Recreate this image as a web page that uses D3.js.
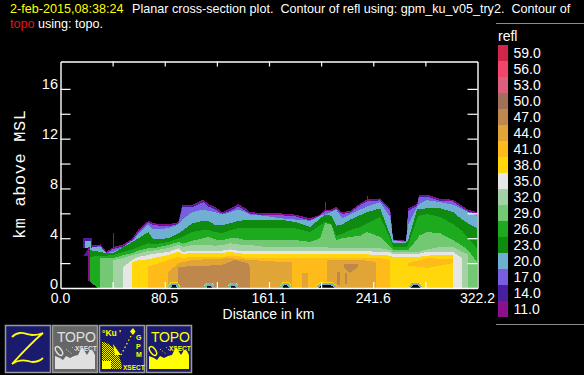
<!DOCTYPE html>
<html>
<head>
<meta charset="utf-8">
<script src="https://cdn.jsdelivr.net/npm/d3@7"></script>
<style>
  html, body { margin: 0; padding: 0; background: black; }
  svg { display: block; }
  text { font-family: "Liberation Sans", sans-serif; white-space: pre; }
</style>
</head>
<body>
<div id="chart"></div>
<script>
// legend, top to bottom
var legend_levels = ['59.0','56.0','53.0','50.0','47.0','44.0','41.0','38.0','35.0','32.0','29.0','26.0','23.0','20.0','17.0','14.0','11.0']
var legend_colours = ['#cf2649','#f4446c','#dc607d','#a0705a','#be874b','#e1a537','#ffbb19','#ffd70a','#e6e6e6','#a5d2a5','#73c873','#1eaa1e','#0f8c0f','#6eafd2','#785fe1','#4b1ea0','#8c0f8c']

var x_ticks = [40.275,80.55,120.825,161.1,201.375,241.65,281.925]
var x_labels = ['0.0','80.5','161.1','241.6','322.2']
var y_ticks = [2,4,6,8,10,12,14,16]
var y_labels = [0,4,8,12,16]

// distance along the section, km
var distance = [22.4,30.9,35.5,40.9,48.6,55.6,60.2,67.9,71.8,83.4,
  91.1,94.2,101.9,110.4,114.2,119.6,125.0,131.2,137.4,142.8,
  146.6,158.2,169.8,181.4,192.9,200.7,204.5,209.2,213.0,217.6,
  223.8,231.5,236.9,247.0,254.7,257.0,267.0,268.6,275.5,277.0,
  283.2,293.3,303.3,310.3,314.9,321.8]

// top of each refl contour, km
var refl11 = [3.4,3.5,2.9,3.3,3.5,4.0,4.7,5.4,5.2,5.1,
  5.3,6.7,6.7,7.1,6.75,6.5,6.1,6.4,6.75,6.4,
  6.1,6.0,6.0,5.9,5.6,5.9,6.3,6.3,6.5,6.1,
  6.2,6.8,7.1,7.2,6.4,3.9,3.8,6.4,6.75,7.5,
  7.5,7.15,7.1,6.6,6.3,6.1]
var refl14 = [3.3,3.4,2.8,3.2,3.4,3.9,4.6,5.3,5.1,5.0,
  5.2,6.6,6.6,7.0,6.65,6.4,6.0,6.3,6.65,6.3,
  6.0,5.9,5.9,5.8,5.5,5.8,6.2,6.2,6.4,6.0,
  6.1,6.7,7.0,7.1,6.3,3.85,3.75,6.3,6.65,7.4,
  7.4,7.05,7.0,6.5,6.2,6.0]
var refl17 = [3.3,3.35,2.8,3.15,3.35,3.85,4.5,5.25,5.05,4.95,
  5.15,6.5,6.5,6.9,6.55,6.3,5.95,6.2,6.55,6.2,
  5.95,5.85,5.85,5.75,5.45,5.85,6.15,6.15,6.35,5.95,
  6.05,6.65,6.95,7.05,6.2,3.85,3.75,6.2,6.6,7.35,
  7.35,7.0,6.95,6.45,6.15,5.95]
var refl20 = [3.3,3.3,2.8,2.9,3.3,3.8,4.3,5.1,4.7,4.8,
  5.1,5.5,6.1,6.3,6.2,6.1,5.9,6.1,6.3,6.1,
  5.9,5.8,5.6,5.5,5.4,5.8,5.9,6.1,6.3,5.6,
  5.9,6.3,6.55,6.9,5.7,3.8,3.7,5.1,6.55,6.75,
  7.05,6.9,6.7,6.35,6.1,5.8]
var refl23 = [3.05,2.9,2.8,2.8,3.3,3.7,4.0,4.5,3.9,4.0,
  4.4,4.6,5.2,5.4,5.4,5.05,5.05,5.2,5.4,5.45,
  5.45,5.5,5.5,5.3,4.9,5.6,5.9,5.8,5.0,5.1,
  5.5,5.85,6.1,6.4,4.25,3.6,3.6,3.85,6.3,6.35,
  6.4,6.4,6.1,5.5,5.2,4.8]
var refl26 = [2.5,2.6,2.6,2.65,2.9,3.1,3.3,3.6,3.5,3.7,
  4.0,4.1,4.5,4.65,4.65,4.5,4.4,4.65,4.8,4.8,
  4.8,4.8,4.8,4.8,4.5,5.05,5.3,5.15,4.2,4.35,
  4.65,4.9,5.2,5.7,4.0,3.3,3.3,3.4,5.6,5.8,
  5.95,5.7,5.15,4.6,4.0,3.2]
var refl29 = [null,2.4,2.4,2.4,2.65,2.8,3.0,3.2,3.2,3.45,
  3.7,3.55,3.8,4.0,4.1,3.9,3.85,4.0,4.0,3.85,
  3.85,3.85,3.85,3.85,3.7,4.0,5.2,5.15,3.85,4.0,
  4.1,4.2,4.5,4.1,3.3,3.05,3.05,3.05,3.9,4.2,
  4.5,4.4,3.85,3.4,3.05,2.1]
var refl32 = [null,null,null,2.25,2.4,2.65,2.75,3.0,3.0,3.2,
  3.5,3.3,3.45,3.45,3.45,3.4,3.45,3.6,3.5,3.45,
  3.45,3.3,3.3,3.3,3.3,3.3,3.3,3.2,3.2,3.2,
  3.2,3.2,3.2,3.2,3.05,2.9,2.9,2.9,2.9,2.9,
  3.1,3.3,3.3,2.9,2.7,null]
var refl35 = [null,null,null,null,1.7,2.25,2.5,2.65,2.75,2.9,
  3.2,2.9,3.0,3.0,3.0,3.0,3.0,3.1,3.0,3.0,
  3.0,3.0,3.0,3.0,3.0,3.0,3.0,2.95,2.95,2.95,
  2.95,2.95,2.95,2.9,2.85,2.75,2.75,2.75,2.75,2.75,
  2.9,2.9,2.9,2.4,null,null]
var refl38 = [null,null,null,null,null,2.1,2.25,2.3,2.4,2.65,
  2.9,2.75,2.8,2.8,2.8,2.8,2.8,2.9,2.8,2.75,
  2.75,2.75,2.75,2.75,2.75,2.75,2.75,2.75,2.7,2.7,
  2.7,2.7,2.7,2.65,2.6,2.5,2.5,2.5,2.5,2.5,
  2.6,2.65,2.65,null,null,null]
var refl41 = [null,null,null,null,null,null,null,1.7,1.85,2.25,
  2.5,2.4,2.5,2.5,2.5,2.5,2.5,2.6,2.6,2.4,
  2.4,2.4,2.4,2.4,2.4,2.4,2.4,2.4,2.4,2.4,
  2.4,2.4,2.4,2.4,2.25,null,null,null,null,null,
  null,null,null,null,null,null]

var contour_tops = [refl11,refl14,refl17,refl20,refl23,refl26,refl29,refl32,refl35,refl38,refl41]
var contour_levels = ['11.0','14.0','17.0','20.0','23.0','26.0','29.0','32.0','35.0','38.0','41.0']

// the pieces that are not one continuous column from the ground: [level, distance, top, base]
var patch_41 = ['41.0',[268.6,283.2,303.3],[2.0,2.4,2.3],[1.8,1.6,2.0]]
var patch_44a = ['44.0',[83.4,91.1,101.9,131.2,146.6,169.8,179.1],[1.3,2.0,2.25,2.4,2.25,2.1,2.1],[0,0,0,0,0,0,0]]
var patch_44b = ['44.0',[186.7,191.4],[1.2,1.2],[0,0]]
var patch_44c = ['44.0',[206.1,217.6,231.5,243.9],[2.25,2.25,2.25,2.1],[0,0,0,0]]
var patch_47a = ['47.0',[91.1,101.9,125.0,134.3,145.0,146.6],[1.7,1.75,1.85,2.25,2.0,1.7],[0,0,0,0,0,0]]
var patch_47b = ['47.0',[219.2,223.8,230.0],[1.95,1.95,1.95],[1.65,1.2,1.7]]
var patch_47c = ['47.0',[213.8,216.1],[1.25,1.25],[0.25,0.25]]
var patch_47d = ['47.0',[220.0,221.5],[1.2,1.2],[0.3,0.3]]
// small echo left of the main cloud, and the thin spikes on top of it
var patch_left_14 = ['14.0',[17.0,24.7],[4.05,4.05],[3.25,3.25]]
var patch_left_20 = ['20.0',[19.3,23.2],[3.75,3.75],[3.25,3.25]]
var patch_tail_14 = ['14.0',[18.0,22.4],[2.65,3.25],[2.6,2.6]]
var patch_rim_11 = ['11.0',[21.6,22.6],[3.3,3.3],[0.55,0.55]]
var patch_spike_a = ['11.0',[40.2,41.4],[4.45,4.45],[3.2,3.2]]
var patch_spike_b = ['11.0',[204.1,204.9],[6.95,6.95],[6.2,6.2]]
var patch_spike_c = ['11.0',[236.6,237.4],[7.4,7.4],[7.0,7.0]]
var patch_gap = ['black',[22.4,28.6],[0.55,0],[0,0]]
var patches = [patch_41,patch_44a,patch_44b,patch_44c,patch_47a,patch_47b,patch_47c,patch_47d,
  patch_left_14,patch_left_20,patch_tail_14,patch_rim_11,patch_spike_a,patch_spike_b,patch_spike_c,patch_gap]

// terrain bumps, km
var topo_bumps = [
  [[84.9,86.5,89.0,90.3],[0,0.22,0.22,0]],
  [[112.7,114.0,116.0,117.3],[0,0.18,0.18,0]],
  [[131.2,132.5,134.5,135.8],[0,0.18,0.18,0]],
  [[171.3,173.0,175.0,176.7],[0,0.22,0.22,0]],
  [[199.1,202.0,209.0,212.2],[0,0.22,0.22,0]],
  [[270.9,272.5,276.0,277.8],[0,0.22,0.22,0]]
]

var width = 584, height = 375
var canvas_padding = { top: 61.5, right: 106.5, bottom: 87, left: 60.5 }

var svg = d3.select('#chart').append('svg')
  .attr('width', width)
  .attr('height', height)
  .style('background', 'black')

var xScale = d3.scaleLinear()
  .domain([0, 322.2])
  .range([canvas_padding.left, width - canvas_padding.right])

var yScale = d3.scaleLinear()
  .domain([0, 18.2])
  .range([height - canvas_padding.bottom, canvas_padding.top])

var colour = d3.scaleOrdinal().domain(legend_levels).range(legend_colours)

svg.append('clipPath').attr('id', 'plot-clip').append('rect')
  .attr('x', xScale(0)).attr('y', yScale(18.2))
  .attr('width', xScale(322.2) - xScale(0))
  .attr('height', yScale(0) - yScale(18.2))

var data_layer = svg.append('g')
  .attr('clip-path', 'url(#plot-clip)')
  .attr('shape-rendering', 'crispEdges')

// lowest level first, each next contour paints over it
var contourArea = d3.area()
  .defined(d => d.top !== null)
  .x(d => xScale(d.km))
  .y0(yScale(0))
  .y1(d => yScale(d.top))

contour_tops.forEach(function(tops, i) {
  var rows = distance.map((km, j) => ({ km: km, top: tops[j] }))
  data_layer.append('path')
    .attr('d', contourArea(rows))
    .attr('fill', colour(contour_levels[i]))
})

var patchArea = d3.area()
  .x(d => xScale(d.km))
  .y0(d => yScale(d.base))
  .y1(d => yScale(d.top))

patches.forEach(function(p) {
  var rows = p[1].map((km, j) => ({ km: km, top: p[2][j], base: p[3][j] }))
  data_layer.append('path')
    .attr('d', patchArea(rows))
    .attr('fill', p[0] === 'black' ? 'black' : colour(p[0]))
})

// terrain, with the squeezed contours around it
var topoLine = d3.line().x(d => xScale(d.km)).y(d => yScale(d.top))
var rim_colours = [['38.0', 6.5], ['29.0', 5], ['20.0', 3]]

topo_bumps.forEach(function(b) {
  var rows = b[0].map((km, j) => ({ km: km, top: b[1][j], base: 0 }))
  rim_colours.forEach(function(r) {
    data_layer.append('path')
      .attr('d', topoLine(rows))
      .attr('fill', 'none')
      .attr('stroke', colour(r[0]))
      .attr('stroke-width', r[1])
  })
  data_layer.append('path')
    .attr('d', patchArea(rows))
    .attr('fill', 'black')
})

// axes, all four sides, ticks point inwards
function clean(g) {
  g.select('.domain').attr('stroke', 'white').attr('stroke-width', 1.4)
  g.selectAll('.tick line').attr('stroke', 'white').attr('stroke-width', 1.2)
  g.selectAll('.tick text').remove()
}

svg.append('g')
  .attr('transform', 'translate(0 ' + yScale(0) + ')')
  .call(d3.axisBottom(xScale).tickValues(x_ticks).tickSizeInner(-6).tickSizeOuter(0))
  .call(clean)
svg.append('g')
  .attr('transform', 'translate(0 ' + yScale(18.2) + ')')
  .call(d3.axisTop(xScale).tickValues(x_ticks).tickSizeInner(-5).tickSizeOuter(0))
  .call(clean)
svg.append('g')
  .attr('transform', 'translate(' + xScale(0) + ' 0)')
  .call(d3.axisLeft(yScale).tickValues(y_ticks).tickSizeInner(-10).tickSizeOuter(0))
  .call(clean)
svg.append('g')
  .attr('transform', 'translate(' + xScale(322.2) + ' 0)')
  .call(d3.axisRight(yScale).tickValues(y_ticks).tickSizeInner(-10).tickSizeOuter(0))
  .call(clean)

// tick labels
svg.selectAll('.xlabel').data(x_labels).enter().append('text')
  .attr('x', d => xScale(+d))
  .attr('y', 303)
  .attr('text-anchor', 'middle')
  .attr('font-size', 14)
  .attr('fill', 'white')
  .text(d => d)

svg.selectAll('.ylabel').data(y_labels).enter().append('text')
  .attr('x', 58)
  .attr('y', d => yScale(d) + 0.5)
  .attr('text-anchor', 'end')
  .attr('font-size', 14.5)
  .attr('fill', 'white')
  .text(d => d)

svg.append('text')
  .attr('x', 268.5).attr('y', 319)
  .attr('text-anchor', 'middle')
  .attr('font-size', 14)
  .attr('fill', 'white')
  .text('Distance in km')

svg.append('text')
  .attr('transform', 'translate(24.5 239) rotate(-90)')
  .style('font-family', '"Liberation Mono", monospace')
  .attr('font-size', 17)
  .attr('letter-spacing', 0.6)
  .attr('fill', 'white')
  .text('km above MSL')

// title lines
var title_font = 12.6
svg.append('text').attr('x', 10).attr('y', 13).attr('font-size', title_font).attr('fill', 'yellow')
  .text('2-feb-2015,08:38:24')
svg.append('text').attr('x', 132).attr('y', 13).attr('font-size', title_font).attr('fill', 'white')
  .text('Planar cross-section plot.  Contour of refl using: gpm_ku_v05_try2.  Contour of')
svg.append('text').attr('x', 10).attr('y', 28).attr('font-size', title_font).attr('fill', '#f01010')
  .text('topo')
svg.append('text').attr('x', 38).attr('y', 28).attr('font-size', title_font).attr('fill', 'white')
  .text('using: topo.')

// colour key
svg.append('line').attr('x1', 496).attr('x2', 584).attr('y1', 23.5).attr('y2', 23.5).attr('stroke', '#8c8c8c')
svg.append('line').attr('x1', 496).attr('x2', 584).attr('y1', 324.5).attr('y2', 324.5).attr('stroke', '#8c8c8c')
svg.append('text').attr('x', 498).attr('y', 41).attr('font-size', 14).attr('fill', 'white').text('refl')

var keyScale = d3.scaleBand().domain(legend_levels).range([45, 317])

svg.selectAll('.key').data(legend_levels).enter().append('rect')
  .attr('x', 498).attr('width', 10)
  .attr('y', d => keyScale(d))
  .attr('height', keyScale.bandwidth())
  .attr('fill', d => colour(d))

svg.selectAll('.keytext').data(legend_levels).enter().append('text')
  .attr('x', 513.5)
  .attr('y', d => keyScale(d) + 13)
  .attr('font-size', 14)
  .attr('fill', 'white')
  .text(d => d)

// the four buttons under the plot
var defs = svg.append('defs')
defs.append('pattern').attr('id', 'dither')
  .attr('width', 2).attr('height', 2).attr('patternUnits', 'userSpaceOnUse')
  .call(function(p) {
    p.append('rect').attr('width', 2).attr('height', 2).attr('fill', '#1a1a6e')
    p.append('rect').attr('width', 1).attr('height', 1).attr('fill', 'yellow')
    p.append('rect').attr('x', 1).attr('y', 1).attr('width', 1).attr('height', 1).attr('fill', 'yellow')
  })

function button(x, fill) {
  var g = svg.append('g').attr('transform', 'translate(' + x + ' 325)')
  g.append('rect').attr('x', 0.5).attr('y', 0.5).attr('width', 45).attr('height', 47)
    .attr('fill', fill).attr('stroke', '#9a9a9a').attr('stroke-width', 1.5)
  return g
}

function topoIcon(g, colour_in) {
  g.append('text').attr('x', 5).attr('y', 17).attr('font-size', 14).attr('letter-spacing', -0.2)
    .attr('fill', colour_in).text('TOPO')
  g.append('text').attr('x', 23).attr('y', 26).attr('font-size', 6.5).attr('font-weight', 'bold')
    .attr('fill', colour_in).text('XSECT')
  g.append('path')
    .attr('d', 'M3 44V31L8 33L11 35L14 31L18 33L22 31L26 30L30 22L35 30L38 25L41 26L43 30V44Z')
    .attr('fill', colour_in)
  g.append('ellipse').attr('cx', 7).attr('cy', 26).attr('rx', 2.6).attr('ry', 5)
    .attr('transform', 'rotate(-35 7 26)')
    .attr('fill', 'none').attr('stroke', colour_in).attr('stroke-width', 1.4)
  g.append('path').attr('d', 'M14 24L20 29M20 22L24 26')
    .attr('stroke', colour_in).attr('stroke-dasharray', '1 2')
}

var z_button = button(5, '#1a1a6e')
z_button.append('path')
  .attr('d', 'M7 12C14 5 20 9 27 10C32 10 36 9 38 8C32 13 17 28 7 39C14 34 21 35 27 37C32 37 36 35 38 33')
  .attr('fill', 'none').attr('stroke', 'yellow').attr('stroke-width', 1.8)

topoIcon(button(52, '#666666'), '#e0e0e0')

var gpm_button = button(99, '#1a1a6e')
gpm_button.append('path').attr('d', 'M3 17C14 18 22 30 23 44H3Z').attr('fill', 'url(#dither)')
gpm_button.append('path').attr('d', 'M14 19L22 30L16 30Z').attr('fill', 'yellow')
gpm_button.append('rect').attr('x', 3).attr('y', 36).attr('width', 9).attr('height', 8).attr('fill', 'yellow')
gpm_button.append('text').attr('x', 3).attr('y', 11).attr('font-size', 8.5).attr('font-weight', 'bold').attr('fill', 'yellow').text('\u00b0Ku \'')
gpm_button.append('path').attr('d', 'M22 30L33 9').attr('stroke', 'yellow').attr('stroke-width', 1.2).attr('stroke-dasharray', '1.5 2.5')
gpm_button.append('path').attr('d', 'M34 3L36.5 6.5L34 10L31 6.5Z').attr('fill', 'yellow')
gpm_button.selectAll('.gpm').data(['G','P','M']).enter().append('text')
  .attr('x', 37).attr('y', (d, i) => 15 + i * 8.5)
  .attr('font-size', 7).attr('font-weight', 'bold').attr('fill', 'yellow').text(d => d)
gpm_button.append('text').attr('x', 24).attr('y', 44.5).attr('font-size', 6.5).attr('font-weight', 'bold').attr('fill', 'yellow').text('XSECT')

topoIcon(button(146, '#1a1a6e'), 'yellow')
</script>
</body>
</html>
